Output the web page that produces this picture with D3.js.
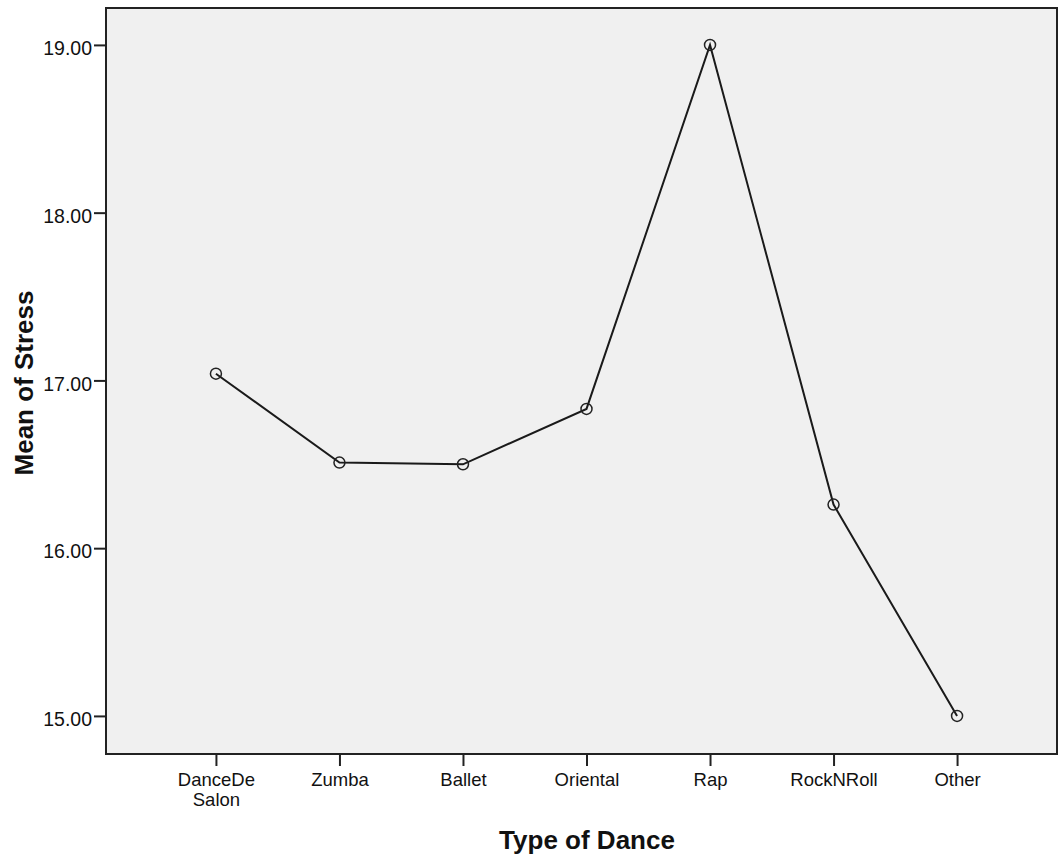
<!DOCTYPE html>
<html>
<head>
<meta charset="utf-8">
<script src="https://cdn.jsdelivr.net/npm/d3@7"></script>
<style>
  body { margin: 0; background: #fff; }
  text { font-family: "Liberation Sans", Arial, sans-serif; fill: #111; }
</style>
</head>
<body>
<script>
// categories and means
var dances = ["DanceDe Salon", "Zumba", "Ballet", "Oriental", "Rap", "RockNRoll", "Other"];
var tickLabels = [["DanceDe", "Salon"], ["Zumba"], ["Ballet"], ["Oriental"], ["Rap"], ["RockNRoll"], ["Other"]];
var stressMeans = [17.04, 16.51, 16.50, 16.83, 19.00, 16.26, 15.00];
var yTicks = [15, 16, 17, 18, 19];

var width = 1059,
    height = 856;

// plot frame (window.top is read-only, so use other names)
var plotLeft = 106, plotTop = 8, plotRight = 1057, plotBottom = 754;

var svg = d3.select("body")
    .append("svg")
    .attr("width", width)
    .attr("height", height);

var x = d3.scalePoint()
    .domain(dances)
    .range([plotLeft, 1067])
    .padding(0.89);

var y = d3.scaleLinear()
    .domain([14.773, 19.22])
    .range([plotBottom, plotTop]);

// background
svg.append("rect")
    .attr("x", plotLeft)
    .attr("y", plotTop)
    .attr("width", plotRight - plotLeft)
    .attr("height", plotBottom - plotTop)
    .attr("fill", "#f0f0f0")
    .attr("stroke", "#222")
    .attr("stroke-width", 2);

// y axis
var yAxis = svg.append("g")
    .attr("transform", "translate(" + plotLeft + ",0)")
    .call(d3.axisLeft(y)
        .tickValues(yTicks)
        .tickSize(12)
        .tickPadding(2)
        .tickFormat(d3.format(".2f")));
yAxis.select(".domain").remove();
yAxis.selectAll(".tick line").attr("stroke", "#222").attr("stroke-width", 2);
yAxis.selectAll(".tick text")
    .attr("font-size", 19.5)
    .attr("dy", "0.5em")
    .style("font-family", "'Liberation Sans', Arial, sans-serif")
    .attr("fill", "#111");

// x axis
var xAxis = svg.append("g")
    .attr("transform", "translate(0," + plotBottom + ")")
    .call(d3.axisBottom(x).tickSize(12).tickFormat(""));
xAxis.select(".domain").remove();
xAxis.selectAll(".tick line").attr("stroke", "#222").attr("stroke-width", 2);
xAxis.selectAll(".tick").each(function(d, i) {
    var t = d3.select(this).append("text")
        .attr("text-anchor", "middle")
        .attr("font-size", 18.5)
        .attr("fill", "#111");
    tickLabels[i].forEach(function(line, j) {
        t.append("tspan")
            .attr("x", 0)
            .attr("y", 32 + j * 20)
            .text(line);
    });
});

// line
var line = d3.line()
    .x(function(d, i) { return x(dances[i]); })
    .y(function(d) { return y(d); });

svg.append("path")
    .datum(stressMeans)
    .attr("d", line)
    .attr("fill", "none")
    .attr("stroke", "#1a1a1a")
    .attr("stroke-width", 2);

// markers
svg.selectAll(".pt")
    .data(stressMeans)
    .enter()
    .append("circle")
    .attr("class", "pt")
    .attr("cx", function(d, i) { return x(dances[i]); })
    .attr("cy", function(d) { return y(d); })
    .attr("r", 5.5)
    .attr("fill", "none")
    .attr("stroke", "#222")
    .attr("stroke-width", 1.5);

// axis titles
svg.append("text")
    .attr("x", 587)
    .attr("y", 849)
    .attr("text-anchor", "middle")
    .attr("font-size", 26)
    .attr("font-weight", "bold")
    .text("Type of Dance");

svg.append("text")
    .attr("transform", "translate(33,383) rotate(-90)")
    .attr("text-anchor", "middle")
    .attr("font-size", 26)
    .attr("font-weight", "bold")
    .text("Mean of Stress");
</script>
</body>
</html>
